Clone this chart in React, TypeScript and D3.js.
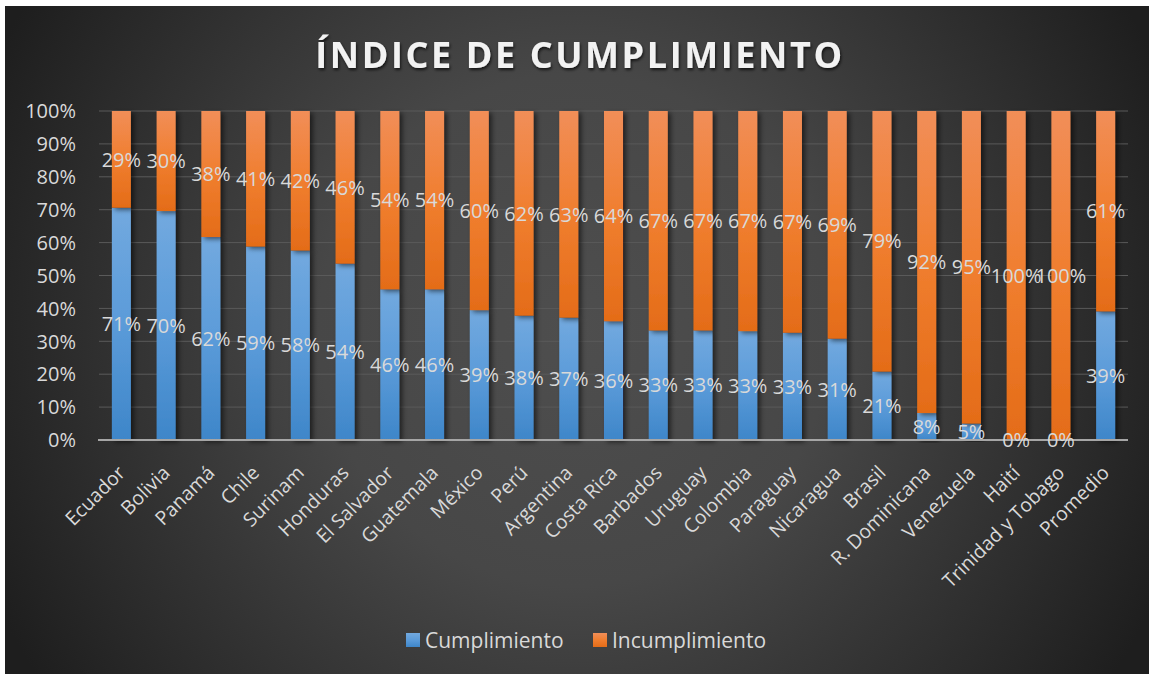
import React from "react";
import * as d3 from "d3";

const categories = [
  "Ecuador", "Bolivia", "Panamá", "Chile", "Surinam", "Honduras", "El Salvador",
  "Guatemala", "México", "Perú", "Argentina", "Costa Rica", "Barbados", "Uruguay",
  "Colombia", "Paraguay", "Nicaragua", "Brasil", "R. Dominicana", "Venezuela",
  "Haití", "Trinidad y Tobago", "Promedio",
];
const cumplimiento = [
  70.6, 69.6, 61.7, 58.8, 57.6, 53.6, 45.8, 45.8, 39.4, 37.8, 37.2, 36.1, 33.3,
  33.3, 33.1, 32.6, 30.8, 20.8, 8.2, 5.0, 0, 0, 39.1,
];
const incumplimiento = [
  29.4, 30.4, 38.3, 41.2, 42.4, 46.4, 54.2, 54.2, 60.4, 62.2, 62.8, 63.9, 66.7,
  66.7, 66.9, 67.4, 69.2, 79.2, 91.8, 95.0, 100, 100, 60.9,
];
const seriesNames = ["Cumplimiento", "Incumplimiento"];
const yTicks = [0, 0.1, 0.2, 0.3, 0.4, 0.5, 0.6, 0.7, 0.8, 0.9, 1.0];
const title = "ÍNDICE DE CUMPLIMIENTO";

const W = 1149;
const H = 674;
const FONT = "'Open Sans', 'DejaVu Sans', sans-serif";
const TXT = "#d9d9d9";

export default function App() {
  const x = d3
    .scaleBand<string>()
    .domain(categories)
    .range([99, 1128])
    .paddingInner(0.575)
    .paddingOuter(0.2875);
  const y = d3.scaleLinear().domain([0, 1]).range([440, 111]);
  const fmt = d3.format(".0%");

  const rows = categories.map((c, i) => {
    const total = cumplimiento[i] + incumplimiento[i];
    return {
      c,
      a: cumplimiento[i] / total,
      b: incumplimiento[i] / total,
      la: cumplimiento[i] / 100,
      lb: incumplimiento[i] / 100,
    };
  });
  const stack = d3.stack<any>().keys(["a", "b"])(rows as any);
  const fills = ["url(#gBlue)", "url(#gOrange)"];
  const labelVals = ["la", "lb"];

  return (
    <svg
      width={W}
      height={H}
      style={{ position: "absolute", left: 0, top: 0, display: "block" }}
      fontFamily={FONT}
    >
      <defs>
        <radialGradient id="bg" gradientUnits="userSpaceOnUse" cx={575} cy={330} r={640}>
          <stop offset="0" stopColor="#4e4e4e" />
          <stop offset="0.4" stopColor="#474747" />
          <stop offset="1" stopColor="#1e1e1e" />
        </radialGradient>
        <linearGradient id="gBlue" x1="0" y1="0" x2="0" y2="1">
          <stop offset="0" stopColor="#72a9df" />
          <stop offset="0.5" stopColor="#5b9bd9" />
          <stop offset="1" stopColor="#3e86c9" />
        </linearGradient>
        <linearGradient id="gOrange" x1="0" y1="0" x2="0" y2="1">
          <stop offset="0" stopColor="#f18e58" />
          <stop offset="0.5" stopColor="#f07e2f" />
          <stop offset="1" stopColor="#e46c18" />
        </linearGradient>
        <filter id="barShadow" x="-50%" y="-10%" width="200%" height="120%">
          <feDropShadow dx="3" dy="2" stdDeviation="2.5" floodColor="#000" floodOpacity="0.55" />
        </filter>
        <filter id="titleShadow" x="-10%" y="-30%" width="120%" height="160%">
          <feDropShadow dx="1" dy="2" stdDeviation="1.5" floodColor="#000" floodOpacity="0.7" />
        </filter>
      </defs>

      <rect x={0} y={0} width={W} height={H} fill="#ffffff" />
      <rect x={5} y={6} width={W - 5} height={H - 6} fill="url(#bg)" />

      <text
        x={580}
        y={68}
        textAnchor="middle"
        fontSize={36}
        fontWeight={700}
        letterSpacing={2.6}
        fill="#f2f2f2"
        filter="url(#titleShadow)"
      >
        {title}
      </text>

      {yTicks.map((t) =>
        t === 0 ? null : (
          <line
            key={"g" + t}
            x1={99}
            x2={1128}
            y1={y(t)}
            y2={y(t)}
            stroke="#5a5a5a"
            strokeWidth={1}
          />
        )
      )}

      {yTicks.map((t) => (
        <text
          key={"t" + t}
          x={76}
          y={y(t)}
          dy="0.36em"
          textAnchor="end"
          fontSize={20}
          fill={TXT}
        >
          {fmt(t)}
        </text>
      ))}

      {stack.map((s, si) =>
        s.map((d: any, i: number) => {
          const h = y(d[0]) - y(d[1]);
          if (h <= 0) return null;
          return (
            <rect
              key={"b" + si + i}
              x={x(categories[i])!}
              y={y(d[1])}
              width={x.bandwidth()}
              height={h}
              fill={fills[si]}
              filter="url(#barShadow)"
            />
          );
        })
      )}

      <line x1={98} x2={1128} y1={440} y2={440} stroke="#a6a6a6" strokeWidth={2} />

      {stack.map((s, si) =>
        s.map((d: any, i: number) => (
          <text
            key={"l" + si + i}
            x={x(categories[i])! + x.bandwidth() / 2}
            y={(y(d[0]) + y(d[1])) / 2}
            dy="0.36em"
            textAnchor="middle"
            fontSize={20}
            fill={TXT}
          >
            {fmt((rows[i] as any)[labelVals[si]])}
          </text>
        ))
      )}

      {categories.map((c) => {
        const cx = x(c)! + x.bandwidth() / 2;
        return (
          <text
            key={"x" + c}
            transform={`translate(${cx + 5},${474}) rotate(-45)`}
            textAnchor="end"
            fontSize={19.5}
            fill={TXT}
          >
            {c}
          </text>
        );
      })}

      {seriesNames.map((n, i) => {
        const lx = [406, 593][i];
        return (
          <g key={"lg" + n} transform={`translate(${lx},633)`}>
            <rect width={14} height={14} fill={fills[i]} />
            <text x={19} y={7} dy="0.36em" fontSize={21} fill={TXT}>
              {n}
            </text>
          </g>
        );
      })}
    </svg>
  );
}
